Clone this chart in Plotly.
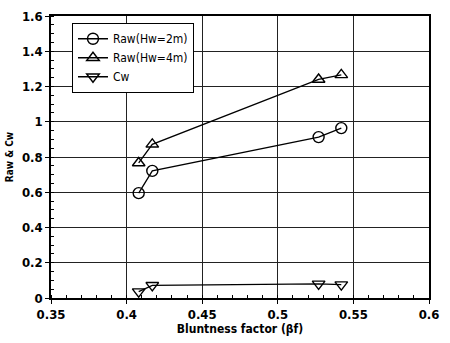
import plotly.graph_objects as go

bf = [0.408, 0.417, 0.527, 0.542]
raw_hw2 = [0.595, 0.721, 0.913, 0.964]
raw_hw4 = [0.766, 0.872, 1.240, 1.266]
cw = [0.036, 0.072, 0.080, 0.076]

x_ticks = [0.35, 0.4, 0.45, 0.5, 0.55, 0.6]
x_ticklabels = ["0.35", "0.4", "0.45", "0.5", "0.55", "0.6"]
y_ticks = [0, 0.2, 0.4, 0.6, 0.8, 1.0, 1.2, 1.4, 1.6]
y_ticklabels = ["0", "0.2", "0.4", "0.6", "0.8", "1", "1.2", "1.4", "1.6"]

fig = go.Figure()
series = [
    ("Raw(Hw=2m)", raw_hw2, "circle-open"),
    ("Raw(Hw=4m)", raw_hw4, "triangle-up-open"),
    ("Cw", cw, "triangle-down-open"),
]
for name, vals, sym in series:
    fig.add_trace(go.Scatter(
        x=bf, y=vals, name=name, mode="lines+markers",
        line=dict(color="black", width=1.3),
        marker=dict(symbol=sym, size=11, color="black", line=dict(width=1.4, color="black")),
    ))

fam = "DejaVu Sans Condensed, DejaVu Sans"
tickfont = dict(family=fam, size=13, color="black", weight="bold")
axis_common = dict(
    showline=True, linecolor="black", linewidth=1.5, mirror=True,
    showgrid=True, gridcolor="#222", gridwidth=1,
    ticks="outside", ticklen=4, tickcolor="black",
    tickfont=tickfont, zeroline=False,
)
fig.update_xaxes(
    range=[0.35, 0.6], tickvals=x_ticks, ticktext=x_ticklabels,
    minor=dict(dtick=0.01, ticks="inside", ticklen=3, tickcolor="black", showgrid=False),
    title=dict(text="Bluntness factor (βf)", font=dict(family=fam, size=12, color="black", weight="bold"), standoff=3),
    **axis_common,
)
fig.update_yaxes(
    range=[0, 1.6], tickvals=y_ticks, ticktext=y_ticklabels,
    minor=dict(dtick=0.05, ticks="inside", ticklen=3, tickcolor="black", showgrid=False),
    title=dict(text="Raw & Cw", font=dict(family=fam, size=10, color="black", weight="bold"), standoff=6),
    **axis_common,
)
fig.update_layout(
    width=450, height=343,
    margin=dict(l=49, r=21, t=9, b=39),
    plot_bgcolor="white", paper_bgcolor="white",
    showlegend=True,
    legend=dict(
        x=0.055, y=0.975, xanchor="left", yanchor="top",
        bgcolor="white", bordercolor="black", borderwidth=1.2,
        font=dict(family=fam, size=12, color="black"),
        tracegroupgap=0, itemwidth=30,
    ),
)
fig.write_html("out.html")
